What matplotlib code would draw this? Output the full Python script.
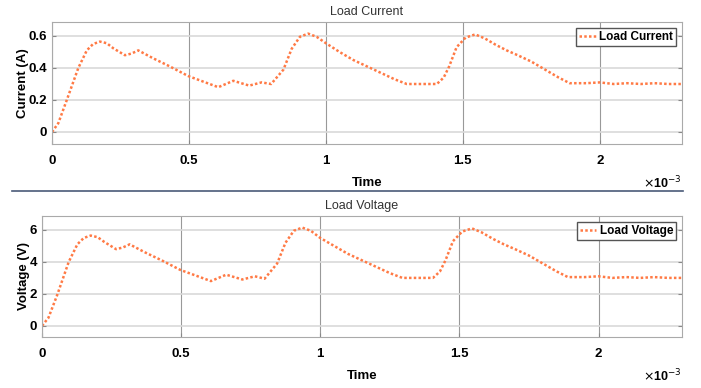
import numpy as np
import matplotlib.pyplot as plt
from matplotlib.lines import Line2D
from matplotlib.ticker import FuncFormatter

# temps en ms (converti en s pour le trace)
t_ms = [0, 0.023, 0.054, 0.096, 0.127, 0.15, 0.175, 0.2, 0.224, 0.266, 0.29,
        0.315, 0.37, 0.43, 0.497, 0.552, 0.607, 0.662, 0.72, 0.765, 0.80,
        0.845, 0.875, 0.905, 0.935, 0.966, 1.0, 1.05, 1.1, 1.15, 1.2, 1.25,
        1.295, 1.35, 1.405, 1.43, 1.45, 1.477, 1.51, 1.545, 1.58, 1.62, 1.66,
        1.7, 1.75, 1.8, 1.85, 1.89, 1.95, 2.0, 2.05, 2.1, 2.15, 2.2, 2.25, 2.3]

courant = [0, 0.055, 0.2, 0.40, 0.51, 0.55, 0.565, 0.555, 0.523, 0.48, 0.49,
           0.51, 0.46, 0.41, 0.35, 0.315, 0.28, 0.32, 0.29, 0.31, 0.30,
           0.39, 0.52, 0.595, 0.615, 0.595, 0.555, 0.50, 0.45, 0.41, 0.37, 0.33,
           0.30, 0.30, 0.30, 0.34, 0.41, 0.53, 0.59, 0.61, 0.585, 0.545, 0.51,
           0.48, 0.44, 0.39, 0.34, 0.305, 0.305, 0.31, 0.30, 0.305, 0.30, 0.305,
           0.30, 0.30]

tension = [0, 0.5, 1.9, 4.0, 5.1, 5.5, 5.65, 5.55, 5.25, 4.8, 4.9,
           5.1, 4.6, 4.1, 3.5, 3.15, 2.8, 3.2, 2.9, 3.1, 2.95,
           3.9, 5.2, 5.95, 6.15, 5.95, 5.5, 5.0, 4.5, 4.1, 3.7, 3.3,
           3.0, 3.0, 3.0, 3.4, 4.1, 5.3, 5.9, 6.1, 5.85, 5.45, 5.1,
           4.8, 4.4, 3.9, 3.4, 3.05, 3.05, 3.1, 3.0, 3.05, 3.0, 3.05,
           3.0, 3.0]

t = np.array(t_ms)*1e-3
orange = '#FF7A45'

plt.rcParams['font.family'] = 'Liberation Sans'
fig = plt.figure(figsize=(7.01, 3.88), dpi=100)

def trace(ax, y, titre, ylab, leg, ylim, yticks):
    ax.plot(t, y, color=orange, lw=1.8, dashes=(1, 0.9), label=leg)
    ax.set_xlim(0, 2.3e-3)
    ax.set_ylim(*ylim)
    ax.set_yticks(yticks)
    ax.set_xticks([0, 0.5e-3, 1e-3, 1.5e-3, 2e-3])
    ax.xaxis.set_major_formatter(FuncFormatter(lambda v, p: '%g' % (v*1e3)))
    ax.yaxis.set_major_formatter(FuncFormatter(lambda v, p: '%g' % v))
    ax.set_title(titre, fontsize=9, pad=5, color='#333333')
    ax.set_ylabel(ylab, fontsize=9.5, fontweight='bold', labelpad=0)
    ax.set_xlabel('Time', fontsize=9.5, fontweight='bold', labelpad=7)
    ax.xaxis.grid(True, color='#999999', lw=0.8)
    ax.yaxis.grid(True, color='#d9d9d9', lw=1.2)
    ax.tick_params(labelsize=9.5, length=3, color='#888888', direction='in',
                   right=True, top=False)
    ax.tick_params(axis='x', pad=8)
    for lab in ax.get_xticklabels() + ax.get_yticklabels():
        lab.set_fontweight('bold')
    for s in ax.spines.values():
        s.set_color('#aaaaaa')
    ax.text(1.0, -0.32, r'$\times$10$^{-3}$', transform=ax.transAxes,
            ha='right', va='center', fontsize=9, fontweight='bold')
    l = ax.legend(loc='upper right', handlelength=1.4, handletextpad=0.3,
                  borderpad=0.25, fancybox=False, framealpha=1,
                  prop={'weight': 'bold', 'size': 8.5})
    l.get_frame().set_edgecolor('#555555')

ax1 = fig.add_axes([52/701, 1-144/388, 630/701, 122/388])
trace(ax1, courant, 'Load Current', 'Current (A)', 'Load Current',
      (-0.075, 0.6875), [0, 0.2, 0.4, 0.6])

ax2 = fig.add_axes([42/701, 1-337/388, 640/701, 121/388])
trace(ax2, tension, 'Load Voltage', 'Voltage (V)', 'Load Voltage',
      (-0.7, 6.875), [0, 2, 4, 6])

# trait de separation entre les deux figures
fig.add_artist(Line2D([12/701, 683/701], [1-191/388, 1-191/388],
                      color='#4a5a78', lw=1.2))

plt.savefig('out.png', dpi=100)
